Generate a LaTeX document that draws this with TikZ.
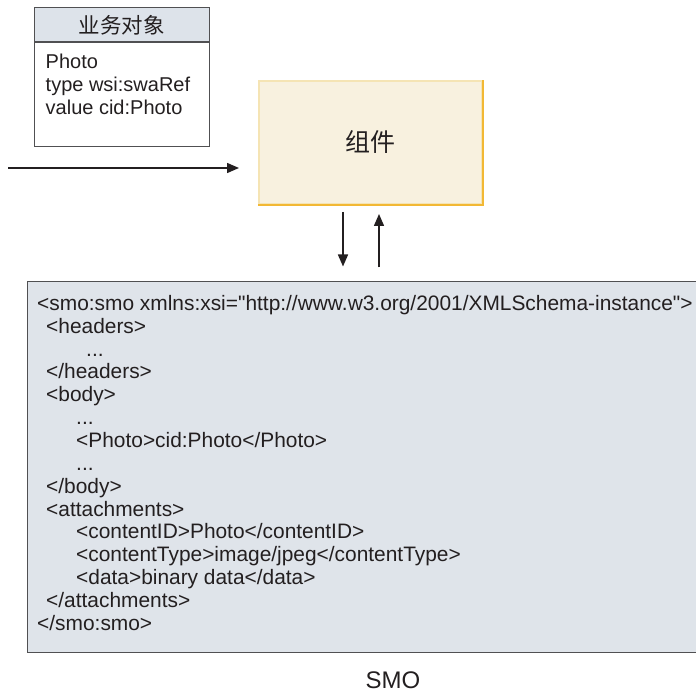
\documentclass[tikz,border=0pt]{standalone}
\usepackage{fontspec}
\setmainfont{Liberation Sans}
\newfontfamily\codefont{Liberation Sans}
\newfontfamily\cjk{Noto Sans CJK SC}
\usetikzlibrary{arrows.meta,positioning}
\definecolor{Ink}{RGB}{35,31,32}
\definecolor{BoxLine}{RGB}{80,80,82}
\definecolor{HeadFill}{RGB}{221,227,234}
\definecolor{SmoFill}{RGB}{223,228,234}
\definecolor{CompFill}{RGB}{248,241,223}
\definecolor{CompEdge}{RGB}{245,228,180}
\definecolor{CompShade}{RGB}{242,184,52}
\tikzset{
	flow/.style={Ink, line width=1.5pt, -{Triangle[length=12pt,width=10pt]}},
	objbox/.style={draw=BoxLine, line width=1pt, minimum width=175pt, inner sep=0pt}
}

\begin{document}
\begin{tikzpicture}[x=1pt, y=-1pt, text=Ink, font=\fontsize{20}{23}\selectfont]
	\clip (0,0) rectangle (696,692);
	
	% -- Business object -----------------------------------------
	\node[objbox, fill=HeadFill, minimum height=34pt] (bohead) at (121.5,25)
		{\cjk\fontsize{21.5}{24}\selectfont 业务对象};
	\node[objbox, minimum height=104pt, below=0pt of bohead] (bobody) {};
	\node[anchor=north west, align=left, inner sep=0pt] (botext)
		at ([xshift=12pt,yshift=-11pt]bobody.north west)
		{Photo\\type wsi:swaRef\\value cid:Photo};
	
	% -- Component ----------------------------------------------
	\node[fill=CompFill, draw=CompEdge, line width=2pt,
		minimum width=223pt, minimum height=123pt] (comp) at (370.5,142.5)
		{\cjk\fontsize{25}{28}\selectfont 组件};
	\draw[CompShade, line width=2.4pt]
		(comp.south west) -- (comp.south east) -- (comp.north east);
	
	% -- SMO ----------------------------------------------------
	\node[draw=BoxLine, fill=SmoFill, line width=1pt,
		minimum width=693pt, minimum height=370pt] (smo) at (373.5,467) {};
	\node[anchor=north west, align=left, inner sep=0pt,
		font=\codefont\fontsize{20.9}{22.86}\selectfont] (smotext) at (37,295)
		{<smo:smo xmlns:xsi="http://www.w3.org/2001/XMLSchema-instance">\\
		\hspace*{9pt}<headers>\\
		\hspace*{49pt}...\\
		\hspace*{9pt}</headers>\\
		\hspace*{9pt}<body>\\
		\hspace*{39pt}...\\
		\hspace*{39pt}<Photo>cid:Photo</Photo>\\
		\hspace*{39pt}...\\
		\hspace*{9pt}</body>\\
		\hspace*{9pt}<attachments>\\
		\hspace*{39pt}<contentID>Photo</contentID>\\
		\hspace*{39pt}<contentType>image/jpeg</contentType>\\
		\hspace*{39pt}<data>binary data</data>\\
		\hspace*{9pt}</attachments>\\
		</smo:smo>};
	\node[font=\fontsize{24}{27}\selectfont] (smolabel) at (393,680) {SMO};
	
	% -- Arrows -------------------------------------------------
	\coordinate (src) at (8,168);
	\coordinate (dn) at ([xshift=-27.5pt]comp.south);
	\coordinate (up) at ([xshift=8.5pt]comp.south);
	\draw[flow, shorten >=19pt] (src) -- (src -| comp.west);
	\draw[flow, shorten <=7pt, shorten >=15pt] (dn) -- (dn |- smo.north);
	\draw[flow, shorten <=14pt, shorten >=9pt] (up |- smo.north) -- (up);
	
\end{tikzpicture}
\end{document}
